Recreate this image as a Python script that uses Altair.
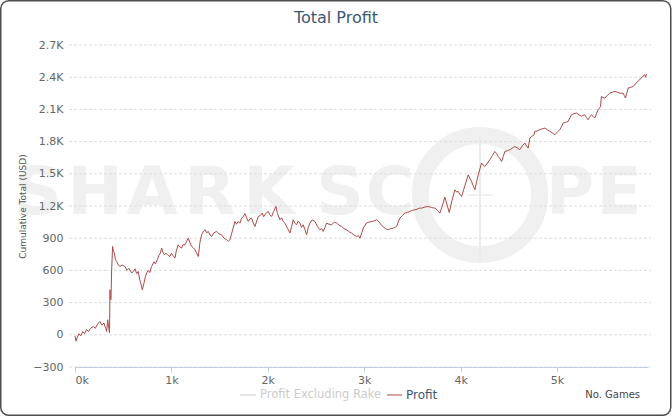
import altair as alt
import pandas as pd

# ---- data ----
games = [0, 10, 25, 40, 60, 80, 100, 120, 140, 160, 190, 210, 235, 259, 280, 300, 311, 320, 328, 339, 352, 358,
         363, 368, 373, 380, 390, 398, 408, 420, 432, 450, 467, 490, 518, 540, 560, 588, 605, 622, 640, 656, 670,
         685, 698, 715, 730, 743, 760, 775, 795, 820, 835, 854, 870, 885, 899, 912, 926, 945, 965, 985, 1000, 1015,
         1037, 1050, 1071, 1085, 1106, 1120, 1141, 1158, 1175, 1192, 1210, 1228, 1245, 1262, 1279, 1296, 1314, 1330,
         1349, 1366, 1383, 1400, 1418, 1440, 1470, 1495, 1521, 1545, 1573, 1590, 1607, 1630, 1659, 1675, 1693, 1710,
         1728, 1745, 1763, 1780, 1797, 1815, 1832, 1850, 1867, 1885, 1901, 1920, 1943, 1957, 1970, 1990, 2005, 2020,
         2040, 2060, 2084, 2100, 2126, 2143, 2160, 2178, 2195, 2212, 2230, 2247, 2264, 2280, 2299, 2315, 2333, 2350,
         2368, 2385, 2403, 2420, 2437, 2460, 2489, 2515, 2541, 2558, 2575, 2592, 2610, 2635, 2662, 2690, 2714, 2740,
         2766, 2790, 2817, 2845, 2869, 2895, 2921, 2940, 2956, 2975, 2990, 3008, 3025, 3050, 3077, 3100, 3129, 3145,
         3163, 3190, 3215, 3232, 3249, 3275, 3301, 3320, 3336, 3353, 3370, 3395, 3422, 3448, 3474, 3500, 3526, 3550,
         3571, 3595, 3630, 3664, 3700, 3733, 3760, 3785, 3810, 3837, 3860, 3882, 3910, 3941, 3958, 3975, 3992, 4010,
         4045, 4079, 4096, 4113, 4130, 4148, 4180, 4217, 4235, 4252, 4278, 4304, 4330, 4355, 4372, 4390, 4408, 4425,
         4442, 4459, 4485, 4511, 4537, 4563, 4590, 4615, 4640, 4667, 4684, 4701, 4719, 4736, 4763, 4770, 4796, 4822,
         4848, 4874, 4900, 4926, 4952, 4978, 5004, 5030, 5047, 5064, 5090, 5116, 5133, 5150, 5176, 5202, 5228, 5254,
         5271, 5288, 5305, 5322, 5340, 5357, 5375, 5392, 5409, 5426, 5440, 5451, 5461, 5478, 5496, 5522, 5548, 5574,
         5600, 5625, 5651, 5668, 5686, 5698, 5710, 5724, 5738, 5764, 5790, 5815, 5841, 5858, 5876, 5893, 5910, 5920,
         5927]
profit = [-10, -60, -20, 10, -10, 30, 10, 50, 30, 60, 77, 60, 100, 124, 90, 110, 77, 60, 31, 140, 56, 20,
          419, 330, 326, 600, 823, 780, 764, 700, 683, 650, 637, 650, 637, 600, 620, 576, 590, 615, 570, 590, 520,
          470, 419, 480, 540, 576, 600, 580, 637, 680, 660, 699, 740, 760, 808, 770, 746, 760, 740, 730, 760, 740,
          715, 780, 839, 820, 808, 840, 839, 870, 901, 860, 823, 810, 792, 760, 730, 860, 932, 960,
          979, 950, 963, 930, 916, 950, 963, 940, 932, 900, 885, 870, 885, 960, 1056, 1030, 1056, 1040,
          1087, 1100, 1128, 1090, 1056, 1080, 1087, 1040, 1009, 1060, 1102, 1110, 1134, 1100, 1118, 1140, 1149, 1120,
          1102, 1150, 1196, 1130, 1072, 1090, 1056, 1040, 1009, 980, 948, 1010, 1072, 1040, 1025, 1060, 1041, 1000,
          1025, 980, 932, 1000, 1041, 1070, 1056, 1010, 979, 990, 963, 1000, 1041, 1030, 1025, 1050, 1041, 1020,
          1009, 990, 979, 960, 948, 930, 916, 925, 901, 950, 994, 1020, 1041, 1050, 1056, 1060, 1072, 1060,
          1041, 1010, 994, 985, 979, 990, 994, 1000, 1009, 1050, 1087, 1110, 1134, 1140, 1149, 1160, 1165, 1170,
          1180, 1180, 1190, 1196, 1185, 1180, 1160, 1134, 1200, 1283, 1210, 1140, 1250, 1351, 1330, 1336, 1310, 1289,
          1390, 1491, 1460, 1429, 1390, 1351, 1480, 1600, 1580, 1569, 1600, 1631, 1670, 1708, 1690, 1662, 1640, 1615,
          1660, 1708, 1715, 1724, 1740, 1755, 1740, 1724, 1760, 1786, 1760, 1740, 1833, 1848, 1864, 1895, 1900, 1911,
          1920, 1926, 1910, 1895, 1880, 1864, 1890, 1911, 1940, 1973, 1980, 1988, 2020, 2050, 2060, 2066, 2050, 2035,
          2045, 2050, 2025, 2004, 2030, 2050, 2035, 2019, 2060, 2097, 2110, 2128, 2221, 2210, 2206, 2230, 2252, 2260,
          2268, 2260, 2252, 2250, 2252, 2230, 2206, 2250, 2299, 2305, 2314, 2340, 2361, 2380, 2392, 2410, 2423, 2400,
          2430]
y_ticks = [-300, 0, 300, 600, 900, 1200, 1500, 1800, 2100, 2400, 2700]
x_ticks = [0, 1000, 2000, 3000, 4000, 5000]
watermark_letters = ["S", "H", "A", "R", "K", "S", "C", "P", "E"]

W, H = 573, 322
FONT = "DejaVu Sans"

df = pd.DataFrame({"games": games, "y": profit})
xs = alt.Scale(domain=[0, 5944], nice=False, zero=False)
ys = alt.Scale(domain=[-300, 2700], nice=False, zero=False)

y_axis = alt.Axis(values=y_ticks, title="Cumulative Total (USD)", grid=False, domain=False,
                  ticks=False, labelPadding=12, labelFont=FONT, labelFontSize=11,
                  labelColor="#666666", zindex=1,
                  labelExpr="abs(datum.value) >= 1000 ? format(datum.value/1000, '.1f') + 'K' : format(datum.value, 'd')",
                  titleFont=FONT, titleFontSize=9, titleFontWeight="normal", titleColor="#555555",
                  titleAngle=-90, titleX=-53, titleY=H / 2, titleAlign="center",
                  titleBaseline="middle")
x_axis = alt.Axis(values=x_ticks, title=None, grid=False, labelExpr="datum.value/1000 + 'k'",
                  labelFont=FONT, labelFontSize=11, labelColor="#666666", zindex=1,
                  domainColor="#c0d0e0", tickColor="#c0d0e0", tickSize=5, labelPadding=2)


def one(text):
    return alt.Chart(pd.DataFrame({"t": [text]}))


# border
border = one("b").mark_rect(cornerRadius=8, fillOpacity=0, stroke="#4d4d4d", strokeWidth=1.5).encode(
    x=alt.value(-74.25), x2=alt.value(595.75), y=alt.value(-44.25), y2=alt.value(370.25))

# watermark (decorative, placed in pixels)
wm_color = "#f0f0f0"
wm_pos = [-37, 20, 77, 135, 194, 265, 315, 495, 544]
wm_layers = [
    one(ch).mark_text(font=FONT, fontWeight="bold", fontSize=66, align="center",
                      baseline="alphabetic", color=wm_color).encode(
        x=alt.value(px), y=alt.value(169), text="t:N")
    for ch, px in zip(watermark_letters, wm_pos)
]
ring = one("o").mark_point(shape="circle", filled=False, size=14200, strokeWidth=17,
                            color=wm_color, opacity=1).encode(x=alt.value(405), y=alt.value(150))
cross = one("c").mark_rule(color="#ebebeb", strokeWidth=2).encode(
    x=alt.value(405), y=alt.value(90), y2=alt.value(215))
cross_h = one("h").mark_rule(color="#ebebeb", strokeWidth=1.5).encode(
    x=alt.value(392), x2=alt.value(418), y=alt.value(150))

# grid
grid = alt.Chart(pd.DataFrame({"y": y_ticks})).mark_rule(
    color="#dddddd", strokeDash=[3, 2], strokeWidth=1).encode(
    y=alt.Y("y:Q", scale=ys, axis=y_axis), x=alt.value(-6), x2=alt.value(W + 3))

line = alt.Chart(df).mark_line(color="#ac4a4a", strokeWidth=1, interpolate="linear").encode(
    x=alt.X("games:Q", scale=xs, axis=x_axis),
    y=alt.Y("y:Q", scale=ys, axis=y_axis))

title = one("Total Profit").mark_text(font=FONT, fontSize=16, color="#3e576f", align="center",
                                      baseline="middle").encode(
    x=alt.value(261), y=alt.value(-27), text="t:N")

leg_gray = one("g").mark_rule(color="#cccccc", strokeWidth=1).encode(
    x=alt.value(165), x2=alt.value(181), y=alt.value(350))
leg_gray_t = one("Profit Excluding Rake").mark_text(font=FONT, fontSize=11.5, color="#cccccc",
                                                    align="left", baseline="middle").encode(
    x=alt.value(185), y=alt.value(350), text="t:N")
leg_red = one("r").mark_rule(color="#ac4a4a", strokeWidth=1).encode(
    x=alt.value(312), x2=alt.value(327), y=alt.value(350))
leg_red_t = one("Profit").mark_text(font=FONT, fontSize=12, color="#3e576f",
                                    align="left", baseline="middle").encode(
    x=alt.value(331), y=alt.value(350), text="t:N")
xtitle = one("No. Games").mark_text(font=FONT, fontSize=10, color="#444444",
                                    align="right", baseline="middle").encode(
    x=alt.value(565), y=alt.value(350), text="t:N")

chart = alt.layer(border, *wm_layers, ring, cross, cross_h, grid, line, title,
                  leg_gray, leg_gray_t, leg_red, leg_red_t, xtitle).properties(
    width=W, height=H,
    autosize=alt.AutoSizeParams(type="none"),
    padding={"left": 75, "top": 45, "right": 24, "bottom": 49},
    background="white",
).configure_view(stroke=None)

chart.save("out.html", embed_options={"renderer": "svg", "actions": False})
